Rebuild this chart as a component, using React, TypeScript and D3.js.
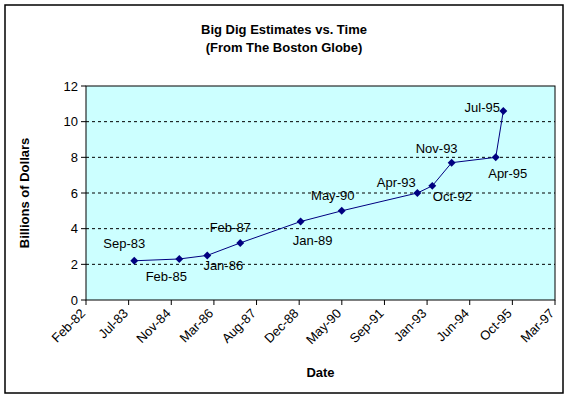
import React from 'react';
import * as d3 from 'd3';

const parseDate = d3.utcParse('%Y-%m-%d');

// estimate dates and values (billions of dollars)
const estimateDates = [
  '1983-09-07', '1985-02-16', '1986-01-10', '1987-02-01', '1989-01-09', '1990-05-06',
  '1992-10-09', '1993-04-02', '1993-11-15', '1995-04-16', '1995-07-14',
];
const estimateValues = [2.2, 2.3, 2.5, 3.2, 4.4, 5.0, 6.0, 6.4, 7.7, 8.0, 10.6];

// data label offsets from each point (label centre), as in the original
const labelOffsets: [number, number][] = [
  [-10, -17], [-13, 17], [16, 10], [-10, -15], [12, 19], [-9, -15],
  [35, 3], [-36, -3], [-15, -14], [12, 16], [-21, -4],
];

const axisStart = '1982-02-18';
const axisStepDays = 500;
const axisSteps = 11;
const yTicks = [0, 2, 4, 6, 8, 10, 12];

const W = 569;
const H = 398;
const margin = { top: 86, right: 14, bottom: 98, left: 86 };
const font = '"Liberation Sans", Arial, sans-serif';

export default function App() {
  const start = parseDate(axisStart)!;
  const xTicks = d3.range(0, axisSteps + 1).map(i => d3.utcDay.offset(start, i * axisStepDays));
  const x = d3
    .scaleUtc()
    .domain([xTicks[0], xTicks[xTicks.length - 1]])
    .range([margin.left, W - margin.right]);
  const y = d3.scaleLinear().domain([0, 12]).range([H - margin.bottom, margin.top]);
  const fmt = d3.utcFormat('%b-%y');

  const points = estimateDates.map((d, i) => ({ date: parseDate(d)!, value: estimateValues[i] }));
  const line = d3
    .line<{ date: Date; value: number }>()
    .x(d => x(d.date))
    .y(d => y(d.value));

  const x0 = margin.left;
  const x1 = W - margin.right;
  const y0 = H - margin.bottom;
  const y1 = margin.top;

  return (
    <svg
      width={W}
      height={H}
      style={{ position: 'absolute', left: 0, top: 0, background: '#fff' }}
      fontFamily={font}
    >
      <rect x={5} y={5} width={558} height={388} fill="#fff" stroke="#000" strokeWidth={1.5} />

      <text x={284} y={34} textAnchor="middle" fontSize={13} fontWeight="bold">
        Big Dig Estimates vs. Time
      </text>
      <text x={284} y={52} textAnchor="middle" fontSize={13} fontWeight="bold">
        (From The Boston Globe)
      </text>

      <rect x={x0} y={y1} width={x1 - x0} height={y0 - y1} fill="#ccffff" />

      {yTicks
        .filter(t => t > 0 && t < 12)
        .map(t => (
          <line key={t} x1={x0} x2={x1} y1={y(t)} y2={y(t)} stroke="#000" strokeDasharray="3,3" />
        ))}

      <rect x={x0} y={y1} width={x1 - x0} height={y0 - y1} fill="none" stroke="#000" strokeWidth={1} />

      {yTicks.map(t => (
        <g key={t}>
          <line x1={x0 - 5} x2={x0} y1={y(t)} y2={y(t)} stroke="#000" />
          <text x={x0 - 8} y={y(t)} dy="0.35em" textAnchor="end" fontSize={13}>
            {t}
          </text>
        </g>
      ))}

      {xTicks.map((t, i) => (
        <g key={i}>
          <line x1={x(t)} x2={x(t)} y1={y0} y2={y0 + 5} stroke="#000" />
          <text
            transform={`translate(${x(t) - 3},${y0 + 11}) rotate(-45)`}
            textAnchor="end"
            dy="0.35em"
            fontSize={13}
          >
            {fmt(t)}
          </text>
        </g>
      ))}

      <path d={line(points)!} fill="none" stroke="#000080" strokeWidth={1} />
      {points.map((p, i) => (
        <path
          key={i}
          d={d3.symbol(d3.symbolDiamond2, 40)()!}
          transform={`translate(${x(p.date)},${y(p.value)})`}
          fill="#000080"
        />
      ))}

      {points.map((p, i) => (
        <text
          key={i}
          x={x(p.date) + labelOffsets[i][0]}
          y={y(p.value) + labelOffsets[i][1]}
          dy="0.35em"
          textAnchor="middle"
          fontSize={13}
        >
          {fmt(p.date)}
        </text>
      ))}

      <text
        transform={`translate(24,${(y0 + y1) / 2}) rotate(-90)`}
        textAnchor="middle"
        dy="0.35em"
        fontSize={13}
        fontWeight="bold"
      >
        Billions of Dollars
      </text>
      <text x={(x0 + x1) / 2} y={372} textAnchor="middle" dy="0.35em" fontSize={13} fontWeight="bold">
        Date
      </text>
    </svg>
  );
}
